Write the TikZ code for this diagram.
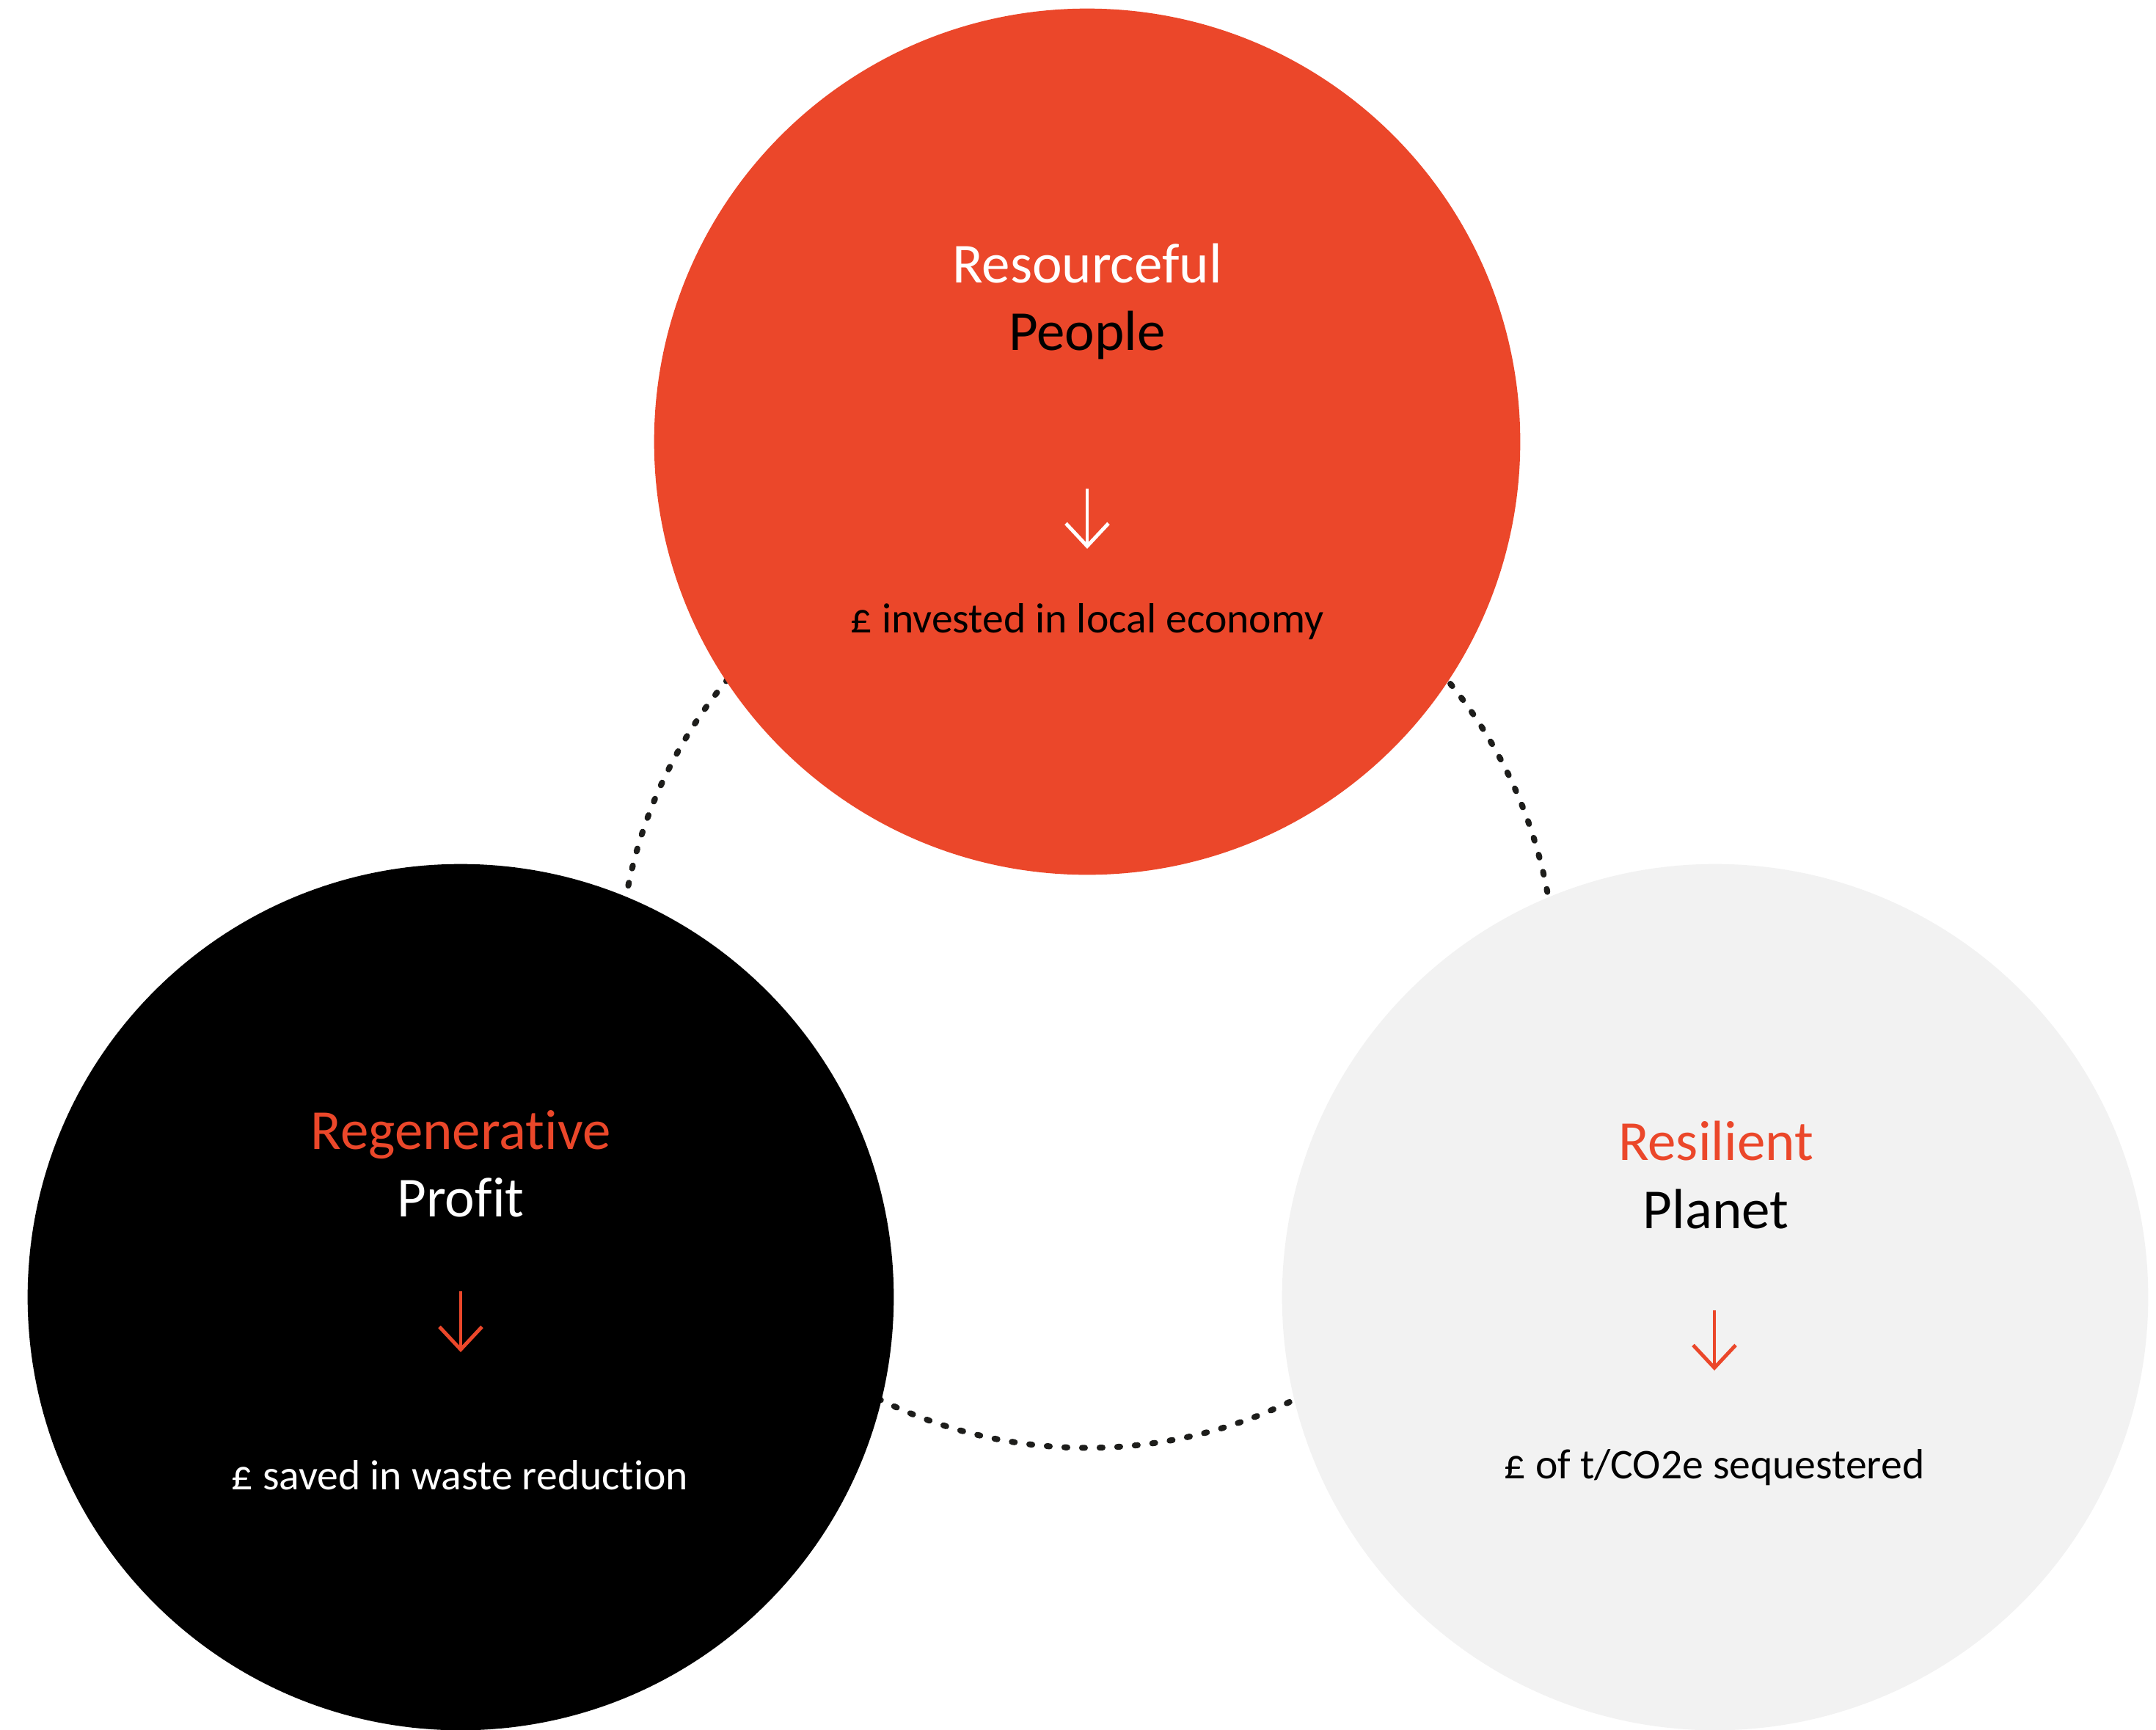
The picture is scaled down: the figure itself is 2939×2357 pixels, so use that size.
\documentclass[tikz,border=0pt]{standalone}
\usepackage{fontspec}
\setmainfont{Carlito}[Ligatures=NoCommon]
\usepackage{xcolor}
\usepackage{tikz}
\usetikzlibrary{arrows.meta}

\definecolor{brandred}{RGB}{235,71,42}
\definecolor{palegrey}{RGB}{242,242,242}
\definecolor{dotgrey}{RGB}{29,29,27}

\begin{document}
\begin{tikzpicture}[x=0.01cm, y=-0.01cm,
        >={Straight Barb[length=3.1mm, width=5.8mm]},
        pillar/.style={circle, inner sep=0pt, minimum size=11.8cm},
        headline/.style={anchor=base, font=\fontsize{21.9}{26}\selectfont},
        metric/.style={anchor=base, font=\fontsize{16.4}{20}\selectfont},
        downarrow/.style={->, line width=1.4pt}]
        \useasboundingbox (0, 0) rectangle (2939, 2357);

        % dotted ring behind the three circles
        \draw[dotgrey, line width=2.3pt, line cap=round, dash pattern=on 0.04cm off 0.20cm]
            (1482, 1335) circle [radius=6.38cm];

        \node[pillar, fill=brandred]  (people) at (1482, 602)  {};
        \node[pillar, fill=black]     (profit) at (628, 1768)  {};
        \node[pillar, fill=palegrey]  (planet) at (2338, 1768) {};

        % People
        \node[headline, white] (people-t) at (1482, 385) {Resourceful};
        \node[headline, black] (people-h) at (1482, 477) {People};
        \coordinate (people-a) at (1482, 666);
        \coordinate (people-b) at (1482, 748);
        \draw[downarrow, white] (people-a) -- (people-b);
        \node[metric, black]   (people-m) at (1482, 862) {£ invested in local economy};

        % Profit
        \node[headline, brandred] (profit-t) at (628, 1566) {Regenerative};
        \node[headline, white]    (profit-h) at (628, 1658) {Profit};
        \coordinate (profit-a) at (628, 1760);
        \coordinate (profit-b) at (628, 1843);
        \draw[downarrow, brandred] (profit-a) -- (profit-b);
        \node[metric, white]      (profit-m) at (627, 2030) {£ saved in waste reduction};

        % Planet
        \node[headline, brandred] (planet-t) at (2339, 1581) {Resilient};
        \node[headline, black]    (planet-h) at (2339, 1674) {Planet};
        \coordinate (planet-a) at (2337, 1786);
        \coordinate (planet-b) at (2337, 1868);
        \draw[downarrow, brandred] (planet-a) -- (planet-b);
        \node[metric, black]      (planet-m) at (2337, 2015) {£ of t/CO2e sequestered};
\end{tikzpicture}
\end{document}
